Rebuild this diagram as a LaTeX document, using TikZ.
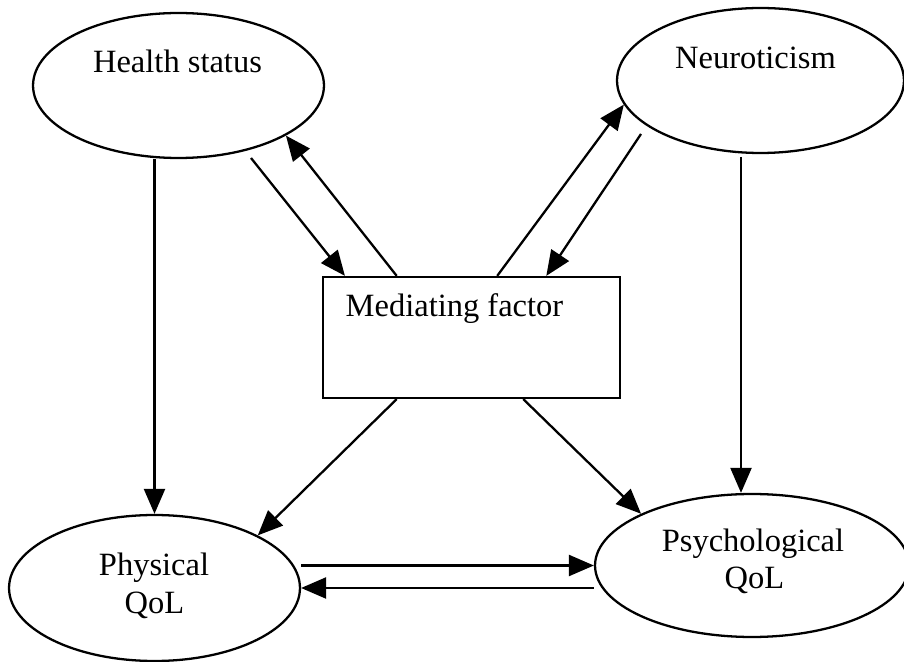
\documentclass[tikz,border=0pt]{standalone}
\usepackage{fontspec}
\setmainfont{Liberation Serif}
\usetikzlibrary{shapes.geometric,arrows.meta,calc}

\begin{document}
\begin{tikzpicture}[x=0.02cm,y=-0.02cm,
    ell/.style={draw, ellipse, line width=1.3pt, inner sep=0pt},
    lbl/.style={font=\fontsize{18.5}{21.6}\selectfont, anchor=base, inner sep=0pt},
    arr/.style={line width=1.3pt, -{Triangle[length=0.5cm,width=0.42cm]}}]
  \useasboundingbox (0,0) rectangle (904,662);
  % ovals and the box
  \node[ell, minimum width=5.82cm, minimum height=2.9cm] (health) at (178.5,85.5) {};
  \node[ell, minimum width=5.74cm, minimum height=2.9cm] (neuro) at (760.5,80.5) {};
  \node[ell, minimum width=5.82cm, minimum height=2.92cm] (physical) at (154.5,588) {};
  \node[ell, minimum width=6.28cm, minimum height=2.86cm] (psych) at (752,565.5) {};
  \node[draw, rectangle, line width=1.3pt, minimum width=5.94cm, minimum height=2.42cm] (med) at (471.5,337.5) {};
  % texts
  \node[lbl] (healthtxt) at (177.5,73) {Health status};
  \node[lbl] (neurotxt) at (755.5,68.4) {Neuroticism};
  \node[lbl] (medtxt) at (454.5,317) {Mediating factor};
  \node[lbl] (phystxt) at (154,576) {Physical};
  \node[lbl] (physqol) at (154.5,614) {QoL};
  \node[lbl] (psychtxt) at (753,551.7) {Psychological};
  \node[lbl] (psychqol) at (754.5,588.3) {QoL};
  % free ends
  \coordinate (hsout) at (251,158);
  \coordinate (nrout) at (641,134);
  \coordinate (nrdown) at (741,157);
  % arrows
  \draw[arr] (physical.north |- health.south) -- (physical.north);
  \draw[arr] (hsout) -- ($(med.north west)!0.077!(med.north east)$);
  \draw[arr] ($(med.north west)!0.25!(med.north east)$) -- (health.-25);
  \draw[arr] ($(med.north west)!0.586!(med.north east)$) -- (neuro.190);
  \draw[arr] (nrout) -- ($(med.north west)!0.75!(med.north east)$);
  \draw[arr] (nrdown) -- (nrdown |- psych.north);
  \draw[arr] ($(med.south west)!0.25!(med.south east)$) -- (physical.27);
  \draw[arr] ($(med.south west)!0.673!(med.south east)$) -- (psych.155);
  \draw[arr] (physical.east |- psych.west) -- (psych.west);
  \draw[arr] (psych.west |- physical.east) -- (physical.east);
\end{tikzpicture}
\end{document}
